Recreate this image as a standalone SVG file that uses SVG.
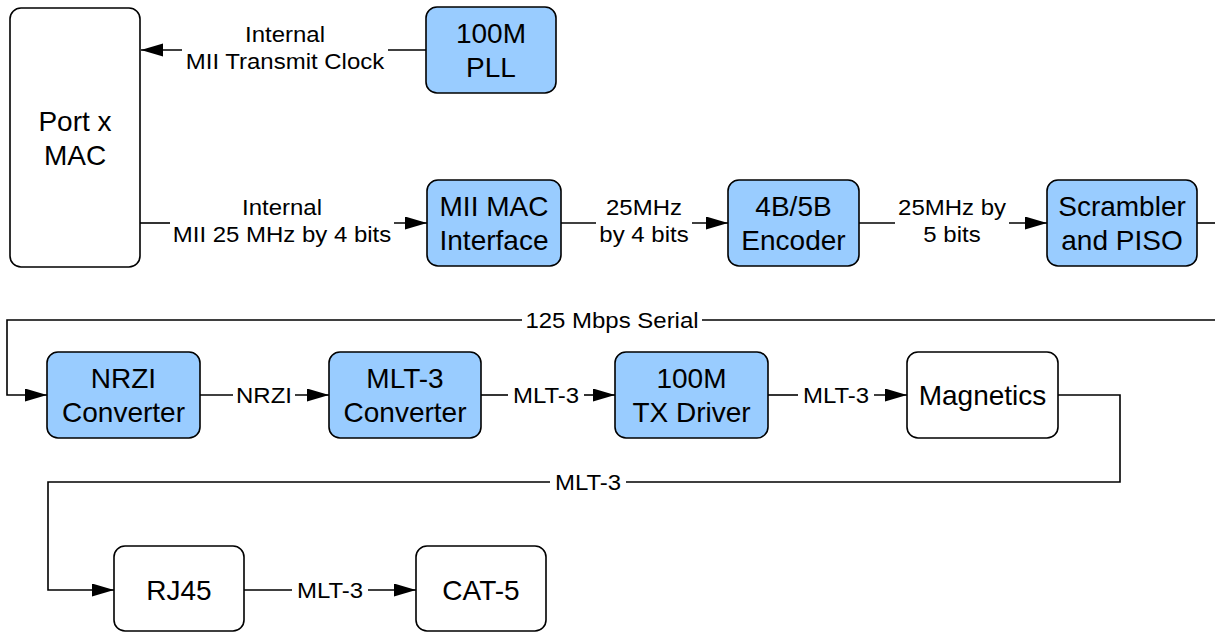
<svg xmlns="http://www.w3.org/2000/svg" width="1215" height="632" viewBox="0 0 1215 632">
<defs>
<style>
.n{stroke:#000;stroke-width:1.6}
.b{fill:#99CCFF}
.w{fill:#FFFFFF}
.t{font-family:"Liberation Sans",Arial,sans-serif;font-size:28px;fill:#000;text-anchor:middle}
.l{font-family:"Liberation Sans",Arial,sans-serif;font-size:22px;fill:#000;text-anchor:middle}
.c{fill:none;stroke:#000;stroke-width:1.6}
</style>
<marker id="a" markerUnits="userSpaceOnUse" markerWidth="22" markerHeight="14" refX="22" refY="6.5" orient="auto">
<path d="M0,0 L22,6.5 L0,13 z" fill="#000"/>
</marker>
</defs>
<rect width="1215" height="632" fill="#fff"/>
<g id="connectors">
<path class="c" d="M426,50 H388"/>
<path class="c" d="M182,50 H141" marker-end="url(#a)"/>
<g transform="translate(285,0) scale(1.09,1)"><text class="l" x="0" y="42">Internal</text><text class="l" x="0" y="69">MII Transmit Clock</text></g>
<path class="c" d="M140,223 H170"/>
<path class="c" d="M394,223 H427" marker-end="url(#a)"/>
<g transform="translate(282,0) scale(1.09,1)"><text class="l" x="0" y="215">Internal</text><text class="l" x="0" y="242">MII 25 MHz by 4 bits</text></g>
<path class="c" d="M561,223 H596"/>
<path class="c" d="M692,223 H728" marker-end="url(#a)"/>
<g transform="translate(644,0) scale(1.09,1)"><text class="l" x="0" y="215">25MHz</text><text class="l" x="0" y="242">by 4 bits</text></g>
<path class="c" d="M859,223 H895"/>
<path class="c" d="M1009,223 H1047" marker-end="url(#a)"/>
<g transform="translate(952,0) scale(1.09,1)"><text class="l" x="0" y="215">25MHz by</text><text class="l" x="0" y="242">5 bits</text></g>
<path class="c" d="M1197,223 H1215"/>
<path class="c" d="M1215,320 H702"/>
<path class="c" d="M522,320 H7 V395 H47" marker-end="url(#a)"/>
<g transform="translate(612,0) scale(1.09,1)"><text class="l" x="0" y="328">125 Mbps Serial</text></g>
<path class="c" d="M200,395 H233"/>
<path class="c" d="M295,395 H329" marker-end="url(#a)"/>
<g transform="translate(264,0) scale(1.09,1)"><text class="l" x="0" y="403">NRZI</text></g>
<path class="c" d="M481,395 H508"/>
<path class="c" d="M584,395 H615" marker-end="url(#a)"/>
<g transform="translate(546,0) scale(1.09,1)"><text class="l" x="0" y="403">MLT-3</text></g>
<path class="c" d="M768,395 H798"/>
<path class="c" d="M874,395 H907" marker-end="url(#a)"/>
<g transform="translate(836,0) scale(1.09,1)"><text class="l" x="0" y="403">MLT-3</text></g>
<path class="c" d="M1058,395 H1120 V482 H626"/>
<path class="c" d="M550,482 H48 V590 H114" marker-end="url(#a)"/>
<g transform="translate(588,0) scale(1.09,1)"><text class="l" x="0" y="490">MLT-3</text></g>
<path class="c" d="M244,590 H292"/>
<path class="c" d="M368,590 H416" marker-end="url(#a)"/>
<g transform="translate(330,0) scale(1.09,1)"><text class="l" x="0" y="598">MLT-3</text></g>
</g>
<g id="port-mac"><rect class="n w" x="10" y="8" width="130" height="259" rx="11"/><text class="t" x="75" y="131">Port x</text><text class="t" x="75" y="165">MAC</text></g>
<g id="pll"><rect class="n b" x="426" y="7" width="130" height="86" rx="11"/><text class="t" x="491" y="43">100M</text><text class="t" x="491" y="77">PLL</text></g>
<g id="mii-mac"><rect class="n b" x="427" y="180" width="134" height="86" rx="11"/><text class="t" x="494" y="216">MII MAC</text><text class="t" x="494" y="250">Interface</text></g>
<g id="enc"><rect class="n b" x="728" y="180" width="131" height="86" rx="11"/><text class="t" x="793.5" y="216">4B/5B</text><text class="t" x="793.5" y="250">Encoder</text></g>
<g id="scrambler"><rect class="n b" x="1047" y="180" width="150" height="86" rx="11"/><text class="t" x="1122" y="216">Scrambler</text><text class="t" x="1122" y="250">and PISO</text></g>
<g id="nrzi"><rect class="n b" x="47" y="352" width="153" height="86" rx="11"/><text class="t" x="123.5" y="388">NRZI</text><text class="t" x="123.5" y="422">Converter</text></g>
<g id="mlt3"><rect class="n b" x="329" y="352" width="152" height="86" rx="11"/><text class="t" x="405" y="388">MLT-3</text><text class="t" x="405" y="422">Converter</text></g>
<g id="txdrv"><rect class="n b" x="615" y="352" width="153" height="86" rx="11"/><text class="t" x="691.5" y="388">100M</text><text class="t" x="691.5" y="422">TX Driver</text></g>
<g id="magnetics"><rect class="n w" x="907" y="352" width="151" height="86" rx="11"/><text class="t" x="982.5" y="405">Magnetics</text></g>
<g id="rj45"><rect class="n w" x="114" y="546" width="130" height="85" rx="11"/><text class="t" x="179" y="600">RJ45</text></g>
<g id="cat5"><rect class="n w" x="416" y="546" width="130" height="85" rx="11"/><text class="t" x="481" y="600">CAT-5</text></g>
</svg>
